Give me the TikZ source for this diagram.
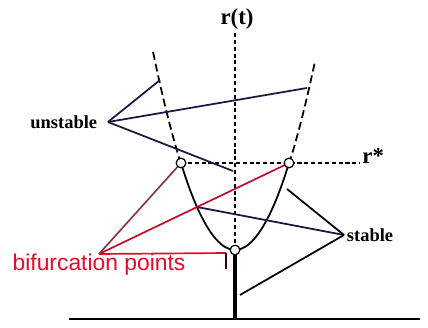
\documentclass[tikz,border=0pt]{standalone}
\usepackage{fontspec}
\setmainfont{Liberation Serif}
\newfontfamily\bifsans{Liberation Sans}
\usetikzlibrary{positioning}

\definecolor{navy}{RGB}{25,25,65}
\definecolor{bifred}{RGB}{225,10,40}
\definecolor{darkrose}{RGB}{130,55,75}

\begin{document}
\begin{tikzpicture}[
        x=0.02cm, y=-0.02cm,
        label/.style={inner sep=0pt, text=black},
        unstablelink/.style={draw=navy, line width=1pt},
        stablelink/.style={draw=navy, line width=1pt},
        biflink/.style={line width=0.95pt},
        axisdash/.style={line width=1pt, dash pattern=on 2.3pt off 1.6pt},
        branchdash/.style={line width=1pt, dash pattern=on 4.5pt off 2.3pt},
        bifdot/.style={circle, draw=black, fill=white, line width=0.7pt, inner sep=0pt, minimum size=5.5pt}
        ]
        \useasboundingbox (0,0) rectangle (428,327);

        % axes
        \node (rt)    [label, font=\bfseries\fontsize{13}{15}\selectfont] at (237,19) {r(t)};
        \coordinate (top)  at (235,33);
        \coordinate (vtx)  at (235,250);
        \coordinate (base) at (235,319);
        \draw [axisdash] (top) -- (vtx);
        \draw [line width=2.3pt] (vtx) -- (base);
        \draw [line width=1.2pt] (69,319) -- (420,319);

        % parabola
        \coordinate (left)  at (181,163);
        \coordinate (right) at (289,163);
        \draw [line width=1pt] (left) parabola bend (vtx) (right);
        \draw [branchdash] plot [domain=-54:-82, samples=20] ({235+\x},{250-0.0295*\x*\x});
        \draw [branchdash] plot [domain=54:80, samples=20] ({235+\x},{250-0.0295*\x*\x});

        % r* level
        \node (rstar) [label, font=\bfseries\fontsize{13}{15}\selectfont, anchor=west] at (362,156) {r*};
        \draw [axisdash] (left) -- (360,163);

        % unstable branch
        \node (unstable) [label, inner xsep=6pt, anchor=east, font=\bfseries\fontsize{10.5}{12}\selectfont] at (108,122) {unstable};
        \coordinate (u1) at (160,80);
        \coordinate (u2) at (307,88);
        \coordinate (u3) at (233,171);
        \draw [unstablelink] (unstable.east) -- (u1);
        \draw [unstablelink] (unstable.east) -- (u2);
        \draw [unstablelink] (unstable.east) -- (u3);

        % stable branch
        \node (stable) [label, inner xsep=1.5pt, anchor=west, font=\bfseries\fontsize{10.5}{12}\selectfont] at (344,235) {stable};
        \coordinate (s1) at (287,189);
        \coordinate (s2) at (197,207);
        \coordinate (s3) at (240,295);
        \draw [stablelink, draw=black] (stable.west) -- (s1);
        \draw [stablelink] (stable.west) -- (s2);
        \draw [stablelink, draw=black] (stable.west) -- (s3);

        % bifurcation points
        \node (bif) [label, anchor=north, text=bifred, font=\bifsans\fontsize{13}{15}\selectfont] at (99,254) {bifurcation points};
        \coordinate (b3) at (226,253);
        \coordinate (b4) at (226,269);
        \draw [biflink, draw=darkrose] (bif.north) -- (left);
        \draw [biflink, draw=bifred!85!black] (bif.north) -- (right);
        \draw [biflink, draw=bifred] (bif.north) -- (b3);
        \draw [line width=1.4pt, draw=black!80!red] (b3) -- (b4);

        \node (lp) [bifdot] at (left)  {};
        \node (rp) [bifdot] at (right) {};
        \node (vp) [bifdot] at (vtx)   {};

\end{tikzpicture}
\end{document}
